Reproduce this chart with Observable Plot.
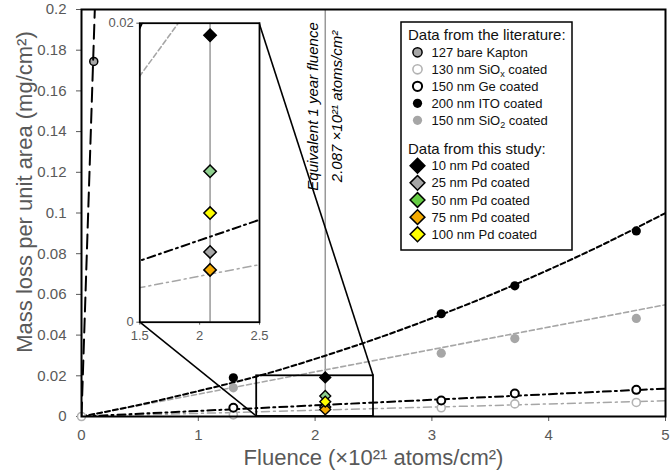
<!DOCTYPE html>
<html>
<head>
<meta charset="utf-8">
<script src="https://cdn.jsdelivr.net/npm/d3@7"></script>
<script src="https://cdn.jsdelivr.net/npm/@observablehq/plot@0.6"></script>
<style>
  body { margin: 0; background: #fff; }
  #wrap { position: relative; width: 671px; height: 470px; overflow: hidden; }
</style>
</head>
<body>
<div id="wrap"></div>
<script>
// ---------- data ----------
const xTicks = [0, 1, 2, 3, 4, 5];
const yTicks = [0, 0.02, 0.04, 0.06, 0.08, 0.1, 0.12, 0.14, 0.16, 0.18, 0.2];
const insetXTicks = [1.5, 2, 2.5];
const insetYTicks = [0, 0.02];
const insetXDomain = [1.5, 2.5];
const insetYDomain = [0, 0.02];
const equivFluence = 2.087;

const xTitle = "Fluence (×10²¹ atoms/cm²)";
const yTitle = "Mass loss per unit area (mg/cm²)";
const eqText1 = "Equivalent 1 year fluence";
const eqText2 = "2.087 ×10²¹ atoms/cm²";

// literature data
const kaptonX = [0.105];
const kaptonY = [0.1745];
const sioxX = [0, 1.30, 3.08, 3.71, 4.75];
const sioxY = [0, 0.0008, 0.0043, 0.0062, 0.0069];
const geX = [1.30, 3.08, 3.71, 4.75];
const geY = [0.0043, 0.0079, 0.0113, 0.0131];
const itoX = [1.30, 3.08, 3.71, 4.75];
const itoY = [0.0190, 0.0505, 0.0642, 0.0912];
const sio2X = [1.30, 3.08, 3.71, 4.75];
const sio2Y = [0.0141, 0.0311, 0.0383, 0.0482];

// trend lines
const kaptonFitX = [0, 0.114];
const kaptonFitY = [0, 0.2];
const sioxFitX = [0, 5];
const sioxFitY = [0, 0.0077];
const geFitX = [0, 5];
const geFitY = [0, 0.0137];
const sio2FitX = [0, 5];
const sio2FitY = [0, 0.0549];
const itoFitX = [0, 0.5, 1, 1.5, 2, 2.5, 3, 3.5, 4, 4.5, 5];
const itoFitY = [0, 0.0058, 0.0125, 0.0197, 0.0283, 0.0378, 0.0483, 0.0597, 0.0721, 0.0855, 0.1];

// this study (all at the equivalent 1-year fluence)
const pdLabels = ["10 nm Pd coated", "25 nm Pd coated", "50 nm Pd coated", "75 nm Pd coated", "100 nm Pd coated"];
const pdY = [0.0192, 0.0047, 0.0101, 0.0035, 0.0073];
const pdColors = ["#000000", "#a6a6a6", "#8fd08f", "#f5aa00", "#ffff00"];
const pdLegendColors = ["#000000", "#a6a6a6", "#66cc44", "#f5aa00", "#ffff00"];

const litHeader = "Data from the literature:";
const studyHeader = "Data from this study:";
const litLabels = [["127 bare Kapton", "", ""], ["130 nm SiO", "x", " coated"], ["150 nm Ge coated", "", ""], ["200 nm ITO coated", "", ""], ["150 nm SiO", "2", " coated"]];

// ---------- styles ----------
const FONT = "'Liberation Sans', Arial, Helvetica, sans-serif";
const GRAY = "#a6a6a6";
const LIGHT = "#b3b3b3";
const DASH = "5,3";
const DASHDOT = "8,4,2,4";

const litStyles = [
  {fill: GRAY, stroke: "black", sw: 1.5},
  {fill: "white", stroke: LIGHT, sw: 1.6},
  {fill: "white", stroke: "black", sw: 2},
  {fill: "black", stroke: "none", sw: 0},
  {fill: GRAY, stroke: "none", sw: 0}
];

function fitLines(clip) {
  return [
    Plot.line(sioxFitX, {x: sioxFitX, y: sioxFitY, stroke: GRAY, strokeWidth: 1.5, strokeDasharray: DASHDOT, clip}),
    Plot.line(sio2FitX, {x: sio2FitX, y: sio2FitY, stroke: GRAY, strokeWidth: 1.6, strokeDasharray: DASH, clip}),
    Plot.line(geFitX, {x: geFitX, y: geFitY, stroke: "black", strokeWidth: 2, strokeDasharray: DASHDOT, clip}),
    Plot.line(itoFitX, {x: itoFitX, y: itoFitY, curve: "natural", stroke: "black", strokeWidth: 2, strokeDasharray: DASH, clip})
  ];
}

// ---------- main chart ----------
const main = Plot.plot({
  width: 671,
  height: 470,
  marginLeft: 81,
  marginRight: 6,
  marginTop: 9,
  marginBottom: 54,
  x: {domain: [0, 5], ticks: xTicks, tickSize: 5, tickPadding: 8, tickFormat: d => String(d), label: null},
  y: {domain: [0, 0.2], ticks: yTicks, tickSize: 5, tickPadding: 10, tickFormat: d => String(d), label: null},
  color: {type: "identity"},
  style: {fontFamily: FONT, fontSize: "15px", color: "#595959", background: "white", overflow: "visible"},
  marks: [
    Plot.ruleX([equivFluence], {stroke: "#999999", strokeWidth: 1.5}),
    ...fitLines(true),
    Plot.rect([0], {x1: insetXDomain[0], x2: insetXDomain[1], y1: insetYDomain[0], y2: insetYDomain[1], fill: "none", stroke: "black", strokeWidth: 1.8}),
    Plot.dot(sioxX, {x: sioxX, y: sioxY, r: 4, fill: "white", stroke: LIGHT, strokeWidth: 1.6}),
    Plot.dot(sio2X, {x: sio2X, y: sio2Y, r: 4.6, fill: GRAY, stroke: "none"}),
    Plot.dot(geX, {x: geX, y: geY, r: 4, fill: "white", stroke: "black", strokeWidth: 2}),
    Plot.dot(itoX, {x: itoX, y: itoY, r: 4.6, fill: "black", stroke: "none"}),
    Plot.dot(kaptonX, {x: kaptonX, y: kaptonY, r: 4, fill: GRAY, stroke: "black", strokeWidth: 1.5}),
    Plot.line(kaptonFitX, {x: kaptonFitX, y: kaptonFitY, stroke: "black", strokeWidth: 2, strokeDasharray: "14,7", clip: true}),
    Plot.dot(pdY, {x: () => equivFluence, y: pdY, symbol: "diamond2", r: 4.9, fill: pdColors, stroke: "black", strokeWidth: 1.4}),
    Plot.text([equivFluence], {x: d => d, frameAnchor: "top", dy: 97, dx: -12.5, rotate: -90, textAnchor: "middle", lineAnchor: "middle", text: () => eqText1, fontStyle: "italic", fontSize: 15, fill: "black"}),
    Plot.text([equivFluence], {x: d => d, frameAnchor: "top", dy: 97, dx: 12, rotate: -90, textAnchor: "middle", lineAnchor: "middle", text: () => eqText2, fontStyle: "italic", fontSize: 15, fill: "black"}),
    Plot.text([xTitle], {frameAnchor: "bottom", dy: 41, textAnchor: "middle", lineAnchor: "middle", text: d => d, fontSize: 22, fill: "#595959"}),
    Plot.text([yTitle], {frameAnchor: "left", dx: -57, dy: -21, rotate: -90, textAnchor: "middle", lineAnchor: "middle", text: d => d, fontSize: 22, fill: "#595959"}),
    Plot.frame({stroke: "black", strokeWidth: 2})
  ]
});
document.getElementById("wrap").appendChild(main);

// ---------- inset ----------
const INSET = {left: 85, top: 10, width: 182, height: 336, mL: 54.3, mR: 8, mT: 12.7, mB: 24.3};
const inset = Plot.plot({
  width: INSET.width,
  height: INSET.height,
  marginLeft: INSET.mL,
  marginRight: INSET.mR,
  marginTop: INSET.mT,
  marginBottom: INSET.mB,
  x: {domain: insetXDomain, ticks: insetXTicks, tickSize: 3, tickPadding: 6, tickFormat: d => String(d), label: null},
  y: {domain: insetYDomain, ticks: insetYTicks, tickSize: 3, tickPadding: 3, tickFormat: d => String(d), label: null},
  color: {type: "identity"},
  style: {fontFamily: FONT, fontSize: "13px", color: "#595959", background: "transparent", overflow: "visible"},
  marks: [
    Plot.frame({fill: "white", stroke: "none"}),
    Plot.ruleX([equivFluence], {stroke: "#999999", strokeWidth: 1.5}),
    ...fitLines(true),
    Plot.dot(pdY, {x: () => equivFluence, y: pdY, symbol: "diamond2", r: 5.6, fill: pdColors, stroke: "black", strokeWidth: 1.5}),
    Plot.frame({stroke: "black", strokeWidth: 1.8})
  ]
});
inset.style.position = "absolute";
inset.style.left = INSET.left + "px";
inset.style.top = INSET.top + "px";
document.getElementById("wrap").appendChild(inset);

// ---------- connector lines (main svg) ----------
const svg = d3.select(main);
const sx = main.scale("x"), sy = main.scale("y");
const insetBL = [INSET.left + INSET.mL, INSET.top + INSET.height - INSET.mB];
const insetTR = [INSET.left + INSET.width - INSET.mR, INSET.top + INSET.mT];
const conn = svg.append("g").attr("stroke", "black").attr("stroke-width", 1.6);
conn.append("line")
  .attr("x1", insetBL[0]).attr("y1", insetBL[1])
  .attr("x2", sx.apply(insetXDomain[0])).attr("y2", sy.apply(insetYDomain[0]));
conn.append("line")
  .attr("x1", insetTR[0]).attr("y1", insetTR[1])
  .attr("x2", sx.apply(insetXDomain[1])).attr("y2", sy.apply(insetYDomain[1]));

// ---------- legend ----------
const lg = svg.append("g").attr("font-family", FONT).attr("fill", "#111").attr("text-anchor", "start");
lg.append("rect").attr("x", 401).attr("y", 22).attr("width", 171).attr("height", 228)
  .attr("fill", "white").attr("stroke", "black").attr("stroke-width", 1.5);
lg.append("text").attr("x", 408).attr("y", 35).attr("dy", "0.35em").attr("font-size", 15).text(litHeader);
litLabels.forEach((parts, i) => {
  const cy = 52.3 + i * 17;
  const s = litStyles[i];
  lg.append("circle").attr("cx", 417.5).attr("cy", cy).attr("r", 4.6)
    .attr("fill", s.fill).attr("stroke", s.stroke).attr("stroke-width", s.sw);
  const t = lg.append("text").attr("x", 431.5).attr("y", cy).attr("dy", "0.35em").attr("font-size", 13);
  t.append("tspan").text(parts[0]);
  if (parts[1]) {
    t.append("tspan").attr("font-size", 9).attr("dy", 3).text(parts[1]);
    t.append("tspan").attr("dy", -3).text(parts[2]);
  }
});
lg.append("text").attr("x", 408).attr("y", 148.3).attr("dy", "0.35em").attr("font-size", 15).text(studyHeader);
const diamond = d3.symbol().type(d3.symbolDiamond2).size(Math.pow(7.4 / 0.62625, 2));
pdLabels.forEach((label, i) => {
  const cy = 165.7 + i * 17.15;
  lg.append("path").attr("d", diamond()).attr("transform", `translate(417.5,${cy})`)
    .attr("fill", pdLegendColors[i]).attr("stroke", "black").attr("stroke-width", 1.5);
  lg.append("text").attr("x", 431.5).attr("y", cy).attr("dy", "0.35em").attr("font-size", 13).text(label);
});
</script>
</body>
</html>
